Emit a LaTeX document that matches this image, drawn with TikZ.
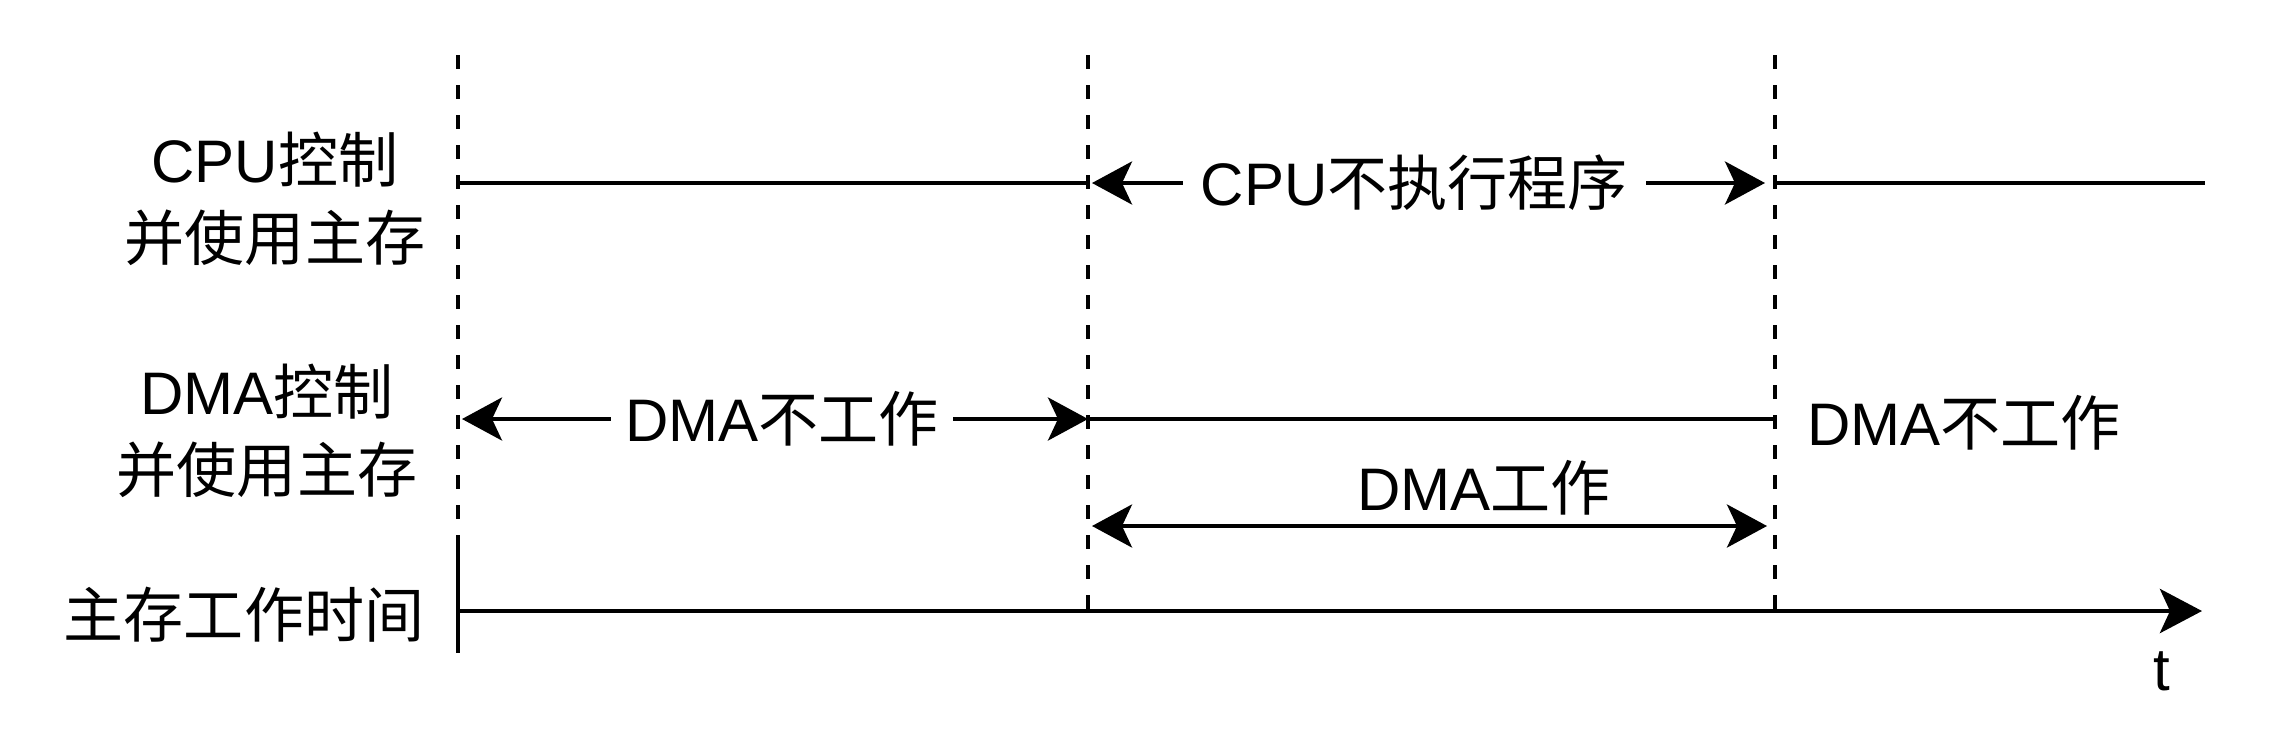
\documentclass[tikz,border=0pt]{standalone}
\usepackage{fontspec}
\setmainfont{Liberation Sans}
\newfontfamily\cjk{Noto Sans CJK SC}
\usepackage{tikz}
\usetikzlibrary{arrows.meta, positioning, calc}
\tikzstyle{guide} = [line width=1pt, dash pattern=on 0.14cm off 0.16cm]
\tikzstyle{track} = [line width=1.1pt]
\tikzstyle{axis} = [line width=1.4pt, -{Stealth[length=0.42cm, width=0.44cm, inset=0.1cm]}]
\tikzstyle{dblarrow} = [line width=1.1pt, {Stealth[length=0.4cm, width=0.43cm, inset=0.1cm]}-{Stealth[length=0.4cm, width=0.43cm, inset=0.1cm]}]
\tikzstyle{lbl} = [font=\fontsize{17.07pt}{22.2pt}\selectfont, align=center, inner sep=0pt]
\tikzstyle{gaplbl} = [lbl, fill=white, inner xsep=0.18cm]

\begin{document}
\begin{tikzpicture}[x=0.01cm, y=-0.01cm]
\useasboundingbox (0,0) rectangle (2270,736);

% Time marks and rows
\coordinate (m1_top) at (458,55);
\coordinate (m1_mid) at (458,548);
\coordinate (m1_bot) at (458,653);
\coordinate (m2_top) at (1088,55);
\coordinate (m2_bot) at (1088,611);
\coordinate (m3_top) at (1775,55);
\coordinate (m3_bot) at (1775,611);
\coordinate (cpu_row) at (0,183);
\coordinate (dma_row) at (0,419);
\coordinate (busy_row) at (0,526);
\coordinate (cpu_end) at (2205,183);
\coordinate (t_end) at (2202,611);

% Row labels
\node (cpu_lbl) [lbl] at (275,199) {CPU{\cjk 控制}\\{\cjk 并使用主存}};
\node (dma_lbl) [lbl] at (267,431) {DMA{\cjk 控制}\\{\cjk 并使用主存}};
\node (mem_lbl) [lbl] at (244,615) {\cjk 主存工作时间};

% Dashed marks
\draw [guide] (m1_top) -- (m1_mid);
\draw [track] (m1_mid) -- (m1_bot);
\draw [guide] (m2_top) -- (m2_bot);
\draw [guide] (m3_top) -- (m3_bot);

% CPU row
\draw [track] (m1_top |- cpu_row) -- (m2_top |- cpu_row);
\draw [dblarrow, shorten <=0.04cm, shorten >=0.1cm] (m2_top |- cpu_row) -- node (cpu_idle) [gaplbl, pos=0.475] {CPU{\cjk 不执行程序}} (m3_top |- cpu_row);
\draw [track] (m3_top |- cpu_row) -- (cpu_end);

% DMA row
\draw [dblarrow, shorten <=0.04cm] (m1_top |- dma_row) -- node (dma_idle_l) [gaplbl, pos=0.514, inner xsep=0.14cm] {DMA{\cjk 不工作}} (m2_top |- dma_row);
\draw [track] (m2_top |- dma_row) -- (m3_top |- dma_row);
\node (dma_idle_r) [lbl] at (1964,423) {DMA{\cjk 不工作}};
\node (dma_busy) [lbl] at (1484,488) {DMA{\cjk 工作}};
\draw [dblarrow, shorten <=0.04cm, shorten >=0.08cm] (m2_top |- busy_row) -- (m3_top |- busy_row);

% Time axis
\draw [axis] (m1_bot |- m2_bot) -- (t_end);
\node (t_lbl) [lbl] at (2162,671) {t};

\end{tikzpicture}
\end{document}
